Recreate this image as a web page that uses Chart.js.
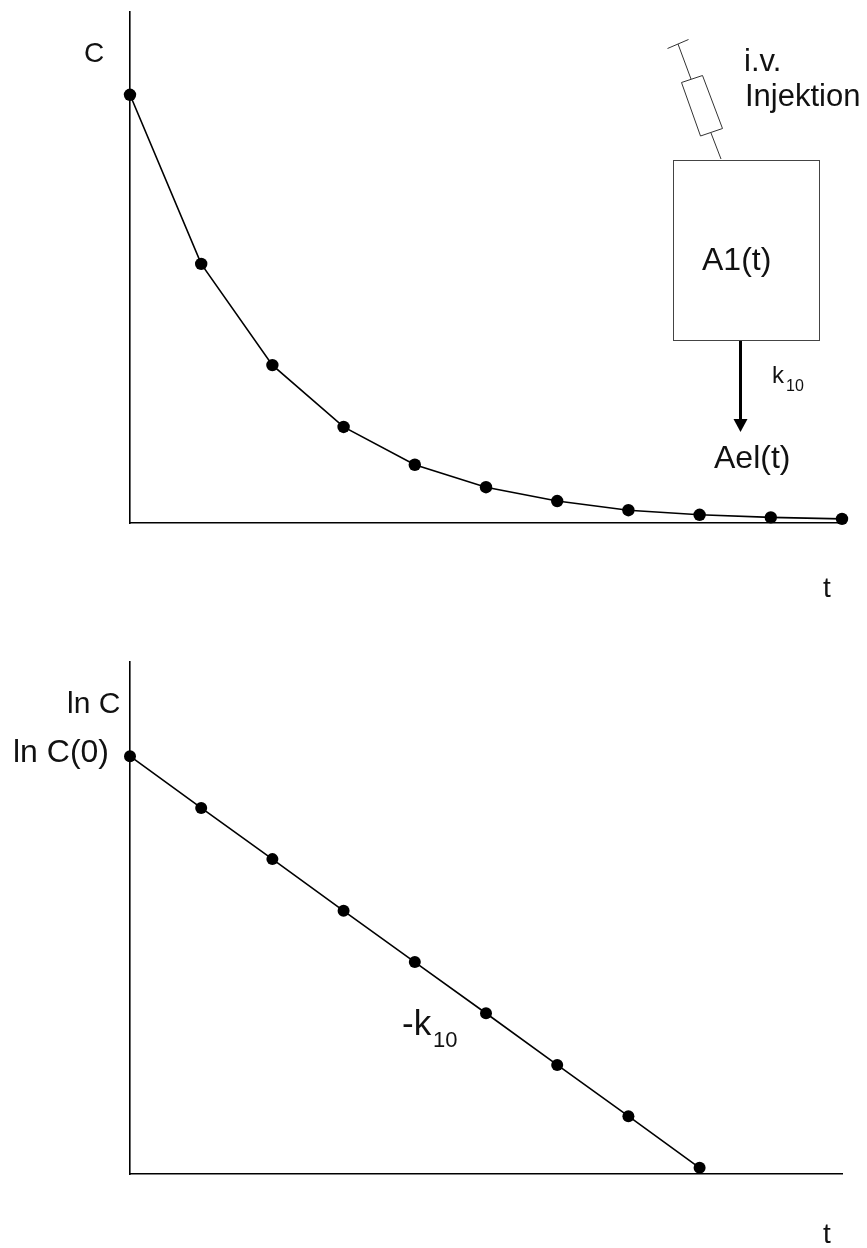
<!DOCTYPE html>
<html>
<head>
<meta charset="utf-8">
<title>C und ln C gegen t</title>
<script src="https://cdn.jsdelivr.net/npm/chart.js@4/dist/chart.umd.min.js"></script>
<style>
    html, body { margin: 0; padding: 0; background: #fff; overflow: hidden; }
    canvas { position: absolute; left: 0; }
    #concChart { top: 0; }
    #logChart { top: 624px; }
</style>
</head>
<body>
<canvas id="concChart" width="867" height="624"></canvas>
<canvas id="logChart" width="867" height="624"></canvas>
<script>
const timeSteps = ['0', '1', '2', '3', '4', '5', '6', '7', '8', '9', '10'];
const concValues = [83.8, 50.7, 30.9, 18.8, 11.4, 7.0, 4.3, 2.5, 1.6, 1.1, 0.8];
const logConcValues = [81.6, 71.5, 61.5, 51.4, 41.4, 31.4, 21.3, 11.3, 1.2];

const FONT = '"Liberation Sans", Arial, sans-serif';

// --- Text labels (x, baseline y inside the own canvas) ---
const concLabels = [
    { text: 'C', x: 84, y: 62, size: 28 },
    { text: 'i.v.', x: 744, y: 71, size: 31 },
    { text: 'Injektion', x: 745, y: 106, size: 31 },
    { text: 'A1(t)', x: 702, y: 270, size: 32 },
    { text: 'k', x: 772, y: 383, size: 24 },
    { text: '10', x: 786, y: 391, size: 16 },
    { text: 'Ael(t)', x: 714, y: 468, size: 32 },
    { text: 't', x: 823, y: 597, size: 28 }
];
const logLabels = [
    { text: 'ln C', x: 67, y: 89, size: 30 },
    { text: 'ln C(0)', x: 13, y: 138, size: 32 },
    { text: '-k', x: 402, y: 411, size: 35 },
    { text: '10', x: 433, y: 423, size: 22 },
    { text: 't', x: 823, y: 619, size: 28 }
];

const labelPlugin = labels => ({
    id: 'textLabels',
    afterDraw(chart) {
        const ctx = chart.ctx;
        ctx.save();
        ctx.fillStyle = '#111';
        ctx.textBaseline = 'alphabetic';
        labels.forEach(l => {
            ctx.font = `${l.size}px ${FONT}`;
            ctx.fillText(l.text, l.x, l.y);
        });
        ctx.restore();
    }
});

function strokeLine(ctx, pts, close) {
    ctx.beginPath();
    pts.forEach((p, i) => i ? ctx.lineTo(p[0], p[1]) : ctx.moveTo(p[0], p[1]));
    if (close) ctx.closePath();
    ctx.stroke();
}

// Syringe, compartment box and elimination arrow
const diagramPlugin = {
    id: 'compartment',
    afterDraw(chart) {
        const ctx = chart.ctx;
        ctx.save();
        ctx.strokeStyle = '#333';
        ctx.lineWidth = 1;
        strokeLine(ctx, [[667.5, 48.5], [688.5, 39.5]]);
        strokeLine(ctx, [[678, 44], [691, 79]]);
        strokeLine(ctx, [[681.5, 82.5], [702.5, 75.5], [722.5, 128.5], [700.5, 136]], true);
        strokeLine(ctx, [[711, 133], [721, 159]]);
        ctx.strokeStyle = '#444';
        ctx.strokeRect(673.5, 160.5, 146, 180);
        ctx.strokeStyle = '#000';
        ctx.lineWidth = 3;
        strokeLine(ctx, [[740.5, 341], [740.5, 421]]);
        ctx.fillStyle = '#000';
        ctx.beginPath();
        ctx.moveTo(733.5, 419);
        ctx.lineTo(747.5, 419);
        ctx.lineTo(740.5, 432);
        ctx.closePath();
        ctx.fill();
        ctx.restore();
    }
};

function makeChart(id, values, padding, radius, plugins) {
    return new Chart(document.getElementById(id).getContext('2d'), {
        type: 'line',
        data: {
            labels: timeSteps,
            datasets: [{
                data: values,
                borderColor: '#000',
                borderWidth: 1.6,
                backgroundColor: '#000',
                pointBackgroundColor: '#000',
                pointBorderWidth: 0,
                pointRadius: radius,
                tension: 0,
                fill: false,
                clip: false
            }]
        },
        options: {
            responsive: false,
            animation: false,
            layout: { padding },
            plugins: { legend: { display: false }, tooltip: { enabled: false } },
            scales: {
                x: {
                    offset: false,
                    grid: { display: false, drawTicks: false },
                    ticks: { display: false },
                    border: { color: '#000', width: 1.6 }
                },
                y: {
                    min: 0,
                    max: 100,
                    grid: { display: false, drawTicks: false },
                    ticks: { display: false },
                    border: { color: '#000', width: 1.6 }
                }
            }
        },
        plugins
    });
}

makeChart('concChart', concValues, { left: 130, right: 25, top: 12, bottom: 101 }, 6.2,
    [labelPlugin(concLabels), diagramPlugin]);
makeChart('logChart', logConcValues, { left: 130, right: 25, top: 38, bottom: 74 }, 6,
    [labelPlugin(logLabels)]);
</script>
</body>
</html>
